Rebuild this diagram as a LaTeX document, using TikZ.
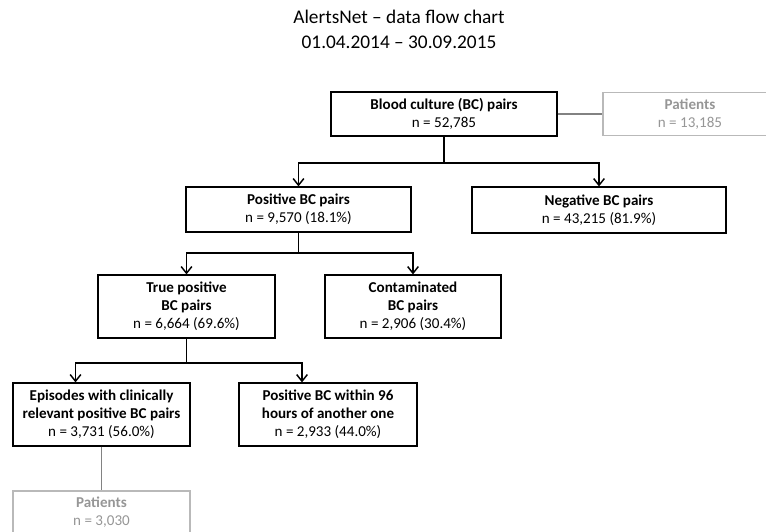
\documentclass[tikz,border=0pt]{standalone}
\usepackage{fontspec}
\setmainfont{Carlito}
\usepackage{tikz}
\usetikzlibrary{arrows.meta, positioning}
\definecolor{light_grey}{RGB}{150,150,150}
\definecolor{frame_grey}{RGB}{185,185,185}
\definecolor{line_grey}{RGB}{130,130,130}

\begin{document}
\begin{tikzpicture}[
                    x=0.75pt, y=-0.75pt,
                    font=\fontsize{11.3}{13.5}\selectfont,
                    flow_box/.style={rectangle, draw=black, line width=0.9pt, align=center, inner sep=0pt},
                    grey_box/.style={rectangle, draw=frame_grey, line width=0.9pt, align=center, inner sep=0pt, text=light_grey},
                    flow_arrow/.style={line width=1.4pt, -{Straight Barb[length=5pt, width=8pt, line width=1.1pt]}},
                    grey_line/.style={draw=line_grey, line width=1.1pt}
                ]
                    \useasboundingbox (0,0) rectangle (766,531);

                    % title
                    \node[align=center, font=\fontsize{14.5}{18.75}\selectfont] (title) at (399,29.5)
                        {AlertsNet -- data flow chart\\01.04.2014 -- 30.09.2015};

                    % boxes
                    \node[flow_box, minimum width=226*0.75pt, minimum height=44*0.75pt] (all) at (444,114)
                        {\textbf{Blood culture (BC) pairs}\\n = 52,785};
                    \node[grey_box, minimum width=174*0.75pt, minimum height=43*0.75pt] (pat_all) at (690,114)
                        {\textbf{Patients}\\n = 13,185};
                    \node[flow_box, minimum width=225*0.75pt, minimum height=45*0.75pt] (pos) at (298.5,209.5)
                        {\textbf{Positive BC pairs}\\n = 9,570 (18.1\%)};
                    \node[flow_box, minimum width=254*0.75pt, minimum height=46*0.75pt] (neg) at (599,210)
                        {\textbf{Negative BC pairs}\\n = 43,215 (81.9\%)};
                    \node[flow_box, minimum width=177*0.75pt, minimum height=63*0.75pt] (true_pos) at (186.5,306.5)
                        {\textbf{True positive}\\\textbf{BC pairs}\\n = 6,664 (69.6\%)};
                    \node[flow_box, minimum width=176*0.75pt, minimum height=63*0.75pt] (contam) at (413,306.5)
                        {\textbf{Contaminated}\\\textbf{BC pairs}\\n = 2,906 (30.4\%)};
                    \node[flow_box, minimum width=177*0.75pt, minimum height=63*0.75pt] (episodes) at (101.5,414.5)
                        {\textbf{Episodes with clinically}\\\textbf{relevant positive BC pairs}\\n = 3,731 (56.0\%)};
                    \node[flow_box, minimum width=178*0.75pt, minimum height=63*0.75pt] (within) at (328,414.5)
                        {\textbf{Positive BC within 96}\\\textbf{hours of another one}\\n = 2,933 (44.0\%)};
                    \node[grey_box, minimum width=177*0.75pt, minimum height=43*0.75pt] (pat_epi) at (101.5,512.5)
                        {\textbf{Patients}\\n = 3,030};

                    % connectors
                    \draw[grey_line] (all.east) -- (pat_all.west);
                    \draw[grey_line] (episodes.south) -- (pat_epi.north);
                    \draw[flow_arrow] (all.south) -- ++(0,26) -| (pos.north);
                    \draw[flow_arrow] (all.south) -- ++(0,26) -| (neg.north);
                    \draw[flow_arrow] (pos.south) -- ++(0,20) -| (true_pos.north);
                    \draw[flow_arrow] (pos.south) -- ++(0,20) -| (contam.north);
                    \draw[flow_arrow] (true_pos.south) -- ++(0,24) -| ([xshift=-19.5pt]episodes.north);
                    \draw[flow_arrow] (true_pos.south) -- ++(0,24) -| ([xshift=-19.5pt]within.north);
                \end{tikzpicture}
\end{document}
